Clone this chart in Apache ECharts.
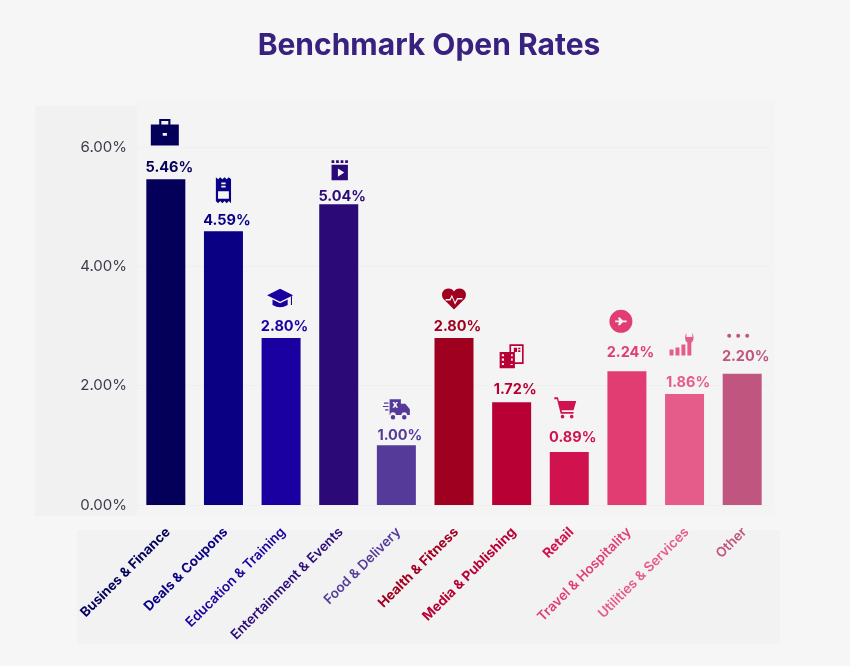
<!DOCTYPE html>
<html>
<head>
<meta charset="utf-8">
<style>
  html, body { margin: 0; padding: 0; background: #f6f6f6; }
  #chart { width: 850px; height: 666px; }
</style>
<script src="https://cdn.jsdelivr.net/npm/echarts@6/dist/echarts.min.js"></script>
</head>
<body>
<div id="chart"></div>
<script>
const categories = ["Busines & Finance", "Deals & Coupons", "Education & Training", "Entertainment & Events", "Food & Delivery", "Health & Fitness", "Media & Publishing", "Retail", "Travel & Hospitality", "Utilities & Services", "Other"];
const openRates = [5.46, 4.59, 2.80, 5.04, 1.00, 2.80, 1.72, 0.89, 2.24, 1.86, 2.20];
const yTicks = [0, 2, 4, 6];

const colors = ["#04005a", "#0a0084", "#1a00a0", "#2b0a78", "#553a9a", "#a00020", "#b80034", "#d0134f", "#e23d72", "#e55c8a", "#c0557f"];
const labelWeights = [700, 700, 600, 600, 600, 700, 700, 700, 600, 600, 600];

// the value labels do not sit at one fixed gap above the bars in the original
const valueLabelShifts = [0, 1, 0, 4, 2, 0, -1, -3, -7, 0, -6];

// icon shapes, 24x24 box
const icons = [
  "path://M2 7H22V22H2ZM10.5 13V15H13.5V13ZM8 7V3H16V7H14.5V4.5H9.5V7Z",
  "path://M5 0L7 2L9 0L11 2L13 0L15 2L17 0L19 2V24L17 22L15 24L13 22L11 24L9 22L7 24L5 22ZM7 13V20H17V13ZM10 5V6.5H14V5ZM10 8V9.5H14V8Z",
  "path://M12 4L24 10L12 16L0 10ZM5 14L12 17.5L19 14V19Q12 23 5 19ZM22 11H23V19H22Z",
  "path://M3 1H6V4H3ZM8 1H11V4H8ZM13 1H16V4H13ZM18 1H21V4H18ZM3 6H21V23H3ZM10 10V19L17 14.5Z",
  "path://M6 3H16V7H20L24 12V17H21.5A2.5 2.5 0 0 0 16.5 17H11.5A2.5 2.5 0 0 0 6.5 17H6ZM8.5 5.5L10 8L8.5 10.5H10.2L11 9.2L11.8 10.5H13.5L12 8L13.5 5.5H11.8L11 6.8L10.2 5.5ZM7 19A2 2 0 1 1 11 19A2 2 0 1 1 7 19ZM17 19A2 2 0 1 1 21 19A2 2 0 1 1 17 19ZM1 6H5V7H1ZM0 9H5V10H0ZM2 12H5V13H2Z",
  "path://M12 22L2 12C-1 8 1 2 7 2C9 2 11 3 12 5C13 3 15 2 17 2C23 2 25 8 22 12ZM4 12V13.5H8.7L10 10.5L13 17.5L15.7 12.5H20V11H15L13 15L10 8L8 12Z",
  "path://M10 1H23V19H10ZM11.5 2.5V17.5H21.5V2.5ZM14 4H17V8H14ZM18 4H20V5.5H18ZM18 6.5H20V8H18ZM1 8H15V23H1ZM3 10V12H5V10ZM3 14V16H5V14ZM3 18V20H5V18ZM11 10V12H13V10ZM11 14V16H13V14ZM11 18V20H13V18Z",
  "path://M0 1H4L5 5H24L21 15H8L8.5 17H21V19H7L3 3H0ZM7 22A2 2 0 1 1 11 22A2 2 0 1 1 7 22ZM17 22A2 2 0 1 1 21 22A2 2 0 1 1 17 22Z",
  "path://M12 0A12 12 0 1 1 12 24A12 12 0 1 1 12 0ZM6 11V13H10L9 16H11L14 13H18V11H14L11 8H9L10 11Z",
  "path://M1 17H5V23H1ZM7 15H11V23H7ZM13 12H17V23H13ZM19 10V23H23V10C25.5 8.5 26 4 24 0V4.5H18V0C16 4 16.5 8.5 19 10Z",
  "path://M0 2A2 2 0 1 1 4 2A2 2 0 1 1 0 2ZM9 2A2 2 0 1 1 13 2A2 2 0 1 1 9 2ZM18 2A2 2 0 1 1 22 2A2 2 0 1 1 18 2Z"
];
const iconSizes = [28, 26, 26, 20, 27, 24, 24, 22, 23, 24, 22];
const iconOffsetsX = [-1, 0, -1, 1, 0, 0, 0, -4, -6, -3, -4];
const iconOffsetsY = [-47, -41, -40, -34, -36, -39, -46, -44, -50, -50, -38];

const font = "Inter, 'Noto Sans', sans-serif";

const chart = echarts.init(document.getElementById("chart"));
chart.setOption({
  animation: false,
  backgroundColor: "#f6f6f6",
  title: {
    text: "Benchmark Open Rates",
    left: 424,
    top: 26,
    textAlign: "center",
    textStyle: { color: "#38217f", fontFamily: font, fontSize: 30, fontWeight: 700 }
  },
  graphic: [
    { type: "rect", z: -1, shape: { x: 35, y: 106, width: 102, height: 410 }, style: { fill: "#f1f1f1" } },
    { type: "rect", z: -1, shape: { x: 137, y: 101, width: 638, height: 415 }, style: { fill: "#f4f4f4" } },
    { type: "rect", z: -1, shape: { x: 77, y: 530, width: 703, height: 114 }, style: { fill: "#f2f2f2" } }
  ],
  grid: { left: 137, right: 79, top: 147, bottom: 161 },
  xAxis: {
    type: "category",
    data: categories.map((name, i) => ({
      value: name,
      textStyle: { color: colors[i], fontWeight: labelWeights[i] }
    })),
    axisLine: { show: false },
    axisTick: { show: false },
    axisLabel: { interval: 0, rotate: 45, margin: 27, padding: [0, -3, 0, 0], fontFamily: font, fontSize: 13.5 }
  },
  yAxis: {
    type: "value",
    min: yTicks[0],
    max: yTicks[yTicks.length - 1],
    interval: yTicks[1],
    axisLine: { show: false },
    axisTick: { show: false },
    splitLine: { lineStyle: { color: "#efefef", width: 1 } },
    axisLabel: {
      margin: 10,
      color: "#3c3c4c",
      fontFamily: font,
      fontSize: 15,
      formatter: v => v.toFixed(2) + "%"
    }
  },
  series: [
    {
      type: "bar",
      barWidth: 39,
      silent: true,
      data: openRates.map((v, i) => ({
        value: v,
        itemStyle: { color: colors[i] },
        label: { color: colors[i], offset: [3.5, valueLabelShifts[i]] }
      })),
      label: {
        show: true,
        position: "top",
        distance: 4,
        fontFamily: font,
        fontSize: 14.5,
        fontWeight: 700,
        formatter: p => p.value.toFixed(2) + "%"
      }
    },
    {
      type: "scatter",
      silent: true,
      clip: false,
      symbolKeepAspect: true,
      data: openRates.map((v, i) => ({
        value: v,
        symbol: icons[i],
        symbolSize: iconSizes[i],
        symbolOffset: [iconOffsetsX[i], iconOffsetsY[i]],
        itemStyle: { color: colors[i], opacity: 1 }
      }))
    }
  ]
});
</script>
</body>
</html>
